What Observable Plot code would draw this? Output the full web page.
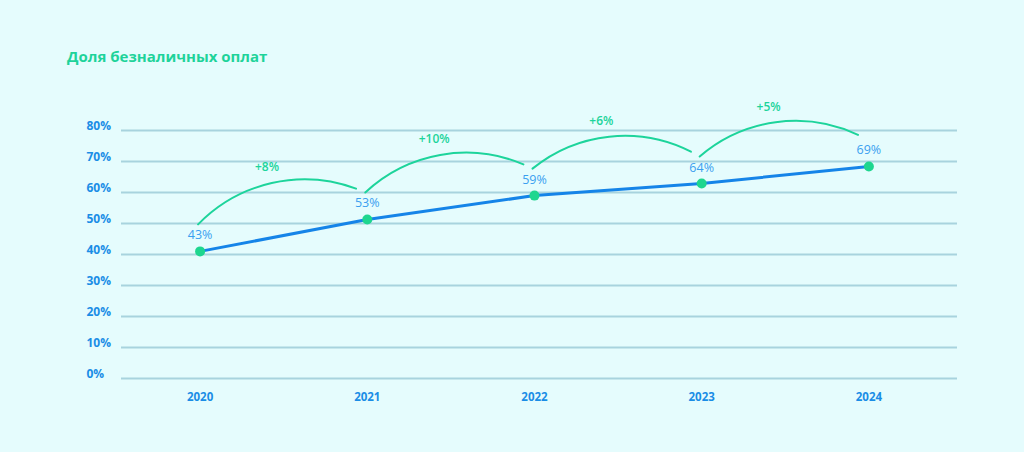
<!DOCTYPE html>
<html><head><meta charset="utf-8">
<script src="https://cdn.jsdelivr.net/npm/d3@7"></script>
<script src="https://cdn.jsdelivr.net/npm/@observablehq/plot@0.6"></script>
<style>
html,body{margin:0;padding:0;background:#e5fcfd;width:1024px;height:452px;overflow:hidden;}
#title{position:absolute;left:67px;top:46px;font-family:"Open Sans";font-weight:700;font-size:15px;line-height:20px;color:#1ed39a;}
#chart{position:absolute;left:0;top:80px;}
</style></head><body>
<div id="title">Доля безналичных оплат</div>
<div id="chart"></div>
<script>
const years = [2020, 2021, 2022, 2023, 2024];
const shares = [41, 51.3, 59, 62.9, 68.4];
const shareLabels = ["43%", "53%", "59%", "64%", "69%"];
const growthLabels = ["+8%", "+10%", "+6%", "+5%"];
const yTicks = [0, 10, 20, 30, 40, 50, 60, 70, 80];

const points = years.map((year, i) => ({year, share: shares[i], label: shareLabels[i]}));
const arcs = growthLabels.map((label, i) => ({
  x1: years[i], y1: shares[i], x2: years[i + 1], y2: shares[i + 1], label
}));

const green = "#1dd49b";
const blue = "#1a8de6";

const chart = Plot.plot({
  width: 1024,
  height: 372,
  marginLeft: 121,
  marginRight: 67,
  marginTop: 50,
  marginBottom: 74,
  x: {domain: [2019.53, 2024.53], axis: null},
  y: {domain: [0, 80], axis: null},
  style: {background: "transparent", fontFamily: "Open Sans", overflow: "visible"},
  marks: [
    Plot.ruleY(yTicks, {stroke: "#a8d3de", strokeWidth: 2}),
    Plot.text(yTicks, {y: d => d, frameAnchor: "left", dx: -35, dy: -4, textAnchor: "start",
      text: d => d + "%", fill: blue, fontSize: 12, fontWeight: 700}),
    Plot.text(years, {x: d => d, frameAnchor: "bottom", dy: 22, text: d => String(d),
      fill: blue, fontSize: 11.5, fontWeight: 700}),
    Plot.arrow(arcs, {x1: "x1", y1: "y1", x2: "x2", y2: "y2", bend: 35, headLength: 0,
      stroke: green, strokeWidth: 2, dx: -2, dy: -27, insetEnd: 10}),
    Plot.text(arcs, {x: d => (d.x1 + d.x2) / 2 - 0.1, y: d => (d.y1 + d.y2) / 2, dy: -68,
      text: "label", fill: green, fontSize: 12, fontWeight: 600}),
    Plot.line(points, {x: "year", y: "share", stroke: "#1584e8", strokeWidth: 3}),
    Plot.dot(points, {x: "year", y: "share", r: 5, fill: "#1ed68f"}),
    Plot.text(points, {x: "year", y: "share", text: "label", dy: -16, fill: "#3a9ff0", fontSize: 12.5})
  ]
});
document.getElementById("chart").appendChild(chart);
</script>
</body></html>
